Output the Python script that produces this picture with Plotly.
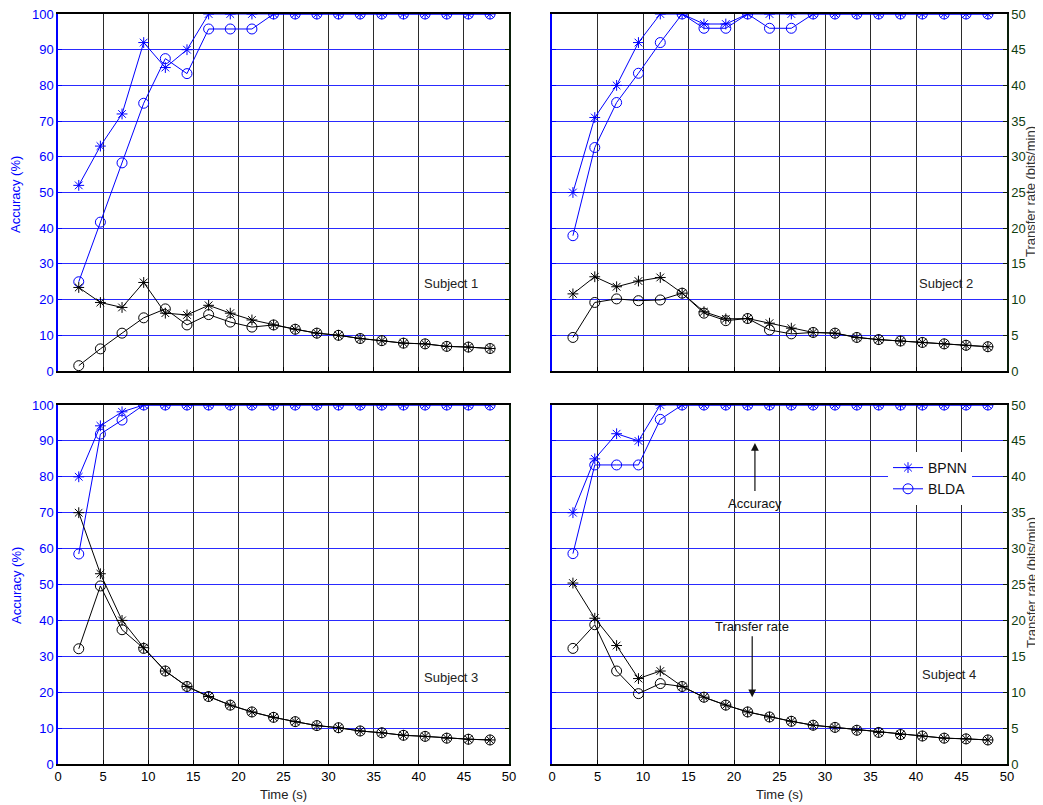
import plotly.graph_objects as go

# ---------------- data ----------------
time_s = [2.3, 4.7, 7.1, 9.5, 11.9, 14.3, 16.7, 19.1, 21.5, 23.9,
          26.3, 28.7, 31.1, 33.5, 35.9, 38.3, 40.7, 43.1, 45.5, 47.9]

# Accuracy (%)
s1_acc_bpnn = [52, 63, 72, 92, 85, 90, 100, 100, 100, 100, 100, 100, 100, 100, 100, 100, 100, 100, 100, 100]
s1_acc_blda = [25, 41.7, 58.3, 75, 87.5, 83.3, 95.8, 95.8, 95.8, 100, 100, 100, 100, 100, 100, 100, 100, 100, 100, 100]
s2_acc_bpnn = [50, 71, 80, 92, 100, 100, 97.2, 97.2, 100, 100, 100, 100, 100, 100, 100, 100, 100, 100, 100, 100]
s2_acc_blda = [37.9, 62.6, 75.2, 83.4, 92, 100, 96, 96, 100, 96, 96, 100, 100, 100, 100, 100, 100, 100, 100, 100]
s3_acc_bpnn = [80, 94.2, 98.1, 100, 100, 100, 100, 100, 100, 100, 100, 100, 100, 100, 100, 100, 100, 100, 100, 100]
s3_acc_blda = [58.5, 91.9, 95.8, 100, 100, 100, 100, 100, 100, 100, 100, 100, 100, 100, 100, 100, 100, 100, 100, 100]
s4_acc_bpnn = [70, 85, 92, 90, 100, 100, 100, 100, 100, 100, 100, 100, 100, 100, 100, 100, 100, 100, 100, 100]
s4_acc_blda = [58.6, 83.3, 83.3, 83.3, 96, 100, 100, 100, 100, 100, 100, 100, 100, 100, 100, 100, 100, 100, 100, 100]

# Transfer rate (bits/min)
s1_tr_bpnn = [11.7, 9.6, 8.9, 12.4, 8.1, 7.85, 9.2, 8.1, 7.15, 6.45, 5.85, 5.3, 5.0, 4.55, 4.25, 3.9, 3.8, 3.45, 3.35, 3.15]
s1_tr_blda = [0.75, 3.1, 5.3, 7.45, 8.7, 6.45, 7.9, 6.85, 6.15, 6.45, 5.85, 5.3, 5.0, 4.55, 4.25, 3.9, 3.8, 3.45, 3.35, 3.15]
s2_tr_bpnn = [10.8, 13.2, 11.8, 12.6, 13.1, 10.9, 8.3, 7.3, 7.35, 6.7, 6.0, 5.4, 5.3, 4.7, 4.4, 4.2, 4.0, 3.8, 3.6, 3.4]
s2_tr_blda = [4.7, 9.6, 10.1, 9.85, 9.95, 10.9, 8.1, 7.05, 7.35, 5.75, 5.2, 5.4, 5.3, 4.7, 4.4, 4.2, 4.0, 3.8, 3.6, 3.4]
s3_tr_bpnn = [35.0, 26.5, 20.0, 16.2, 12.95, 10.8, 9.4, 8.2, 7.25, 6.5, 5.9, 5.35, 5.05, 4.6, 4.35, 4.0, 3.85, 3.6, 3.45, 3.35]
s3_tr_blda = [16.05, 24.8, 18.7, 16.1, 12.95, 10.8, 9.4, 8.2, 7.25, 6.5, 5.9, 5.35, 5.05, 4.6, 4.35, 4.0, 3.85, 3.6, 3.45, 3.35]
s4_tr_bpnn = [25.2, 20.3, 16.5, 11.9, 12.95, 10.8, 9.3, 8.2, 7.25, 6.55, 5.95, 5.4, 5.1, 4.7, 4.4, 4.1, 3.9, 3.6, 3.5, 3.35]
s4_tr_blda = [16.1, 19.4, 12.95, 9.8, 11.2, 10.8, 9.3, 8.2, 7.25, 6.55, 5.95, 5.4, 5.1, 4.7, 4.4, 4.1, 3.9, 3.6, 3.5, 3.35]

subject_labels = ["Subject 1", "Subject 2", "Subject 3", "Subject 4"]
x_ticks = [0, 5, 10, 15, 20, 25, 30, 35, 40, 45, 50]

# ---------------- style ----------------
BLUE = "#0000ff"
BLACK = "#000000"
GREEN = "#0f3d0f"
GRIDB = "#2a2aff"
GRIDK = "#2b2b2b"
FONT = "Liberation Sans, Arial, sans-serif"
OFF = 8  # page body margin
W, H = 1043 - OFF, 805 - OFF

def px_x(p):
    return (p - OFF) / W

def px_y(p):
    return 1 - (p - OFF) / H

LX = [px_x(58), px_x(509)]
RX = [px_x(552), px_x(1007)]
TY = [px_y(371), px_y(14)]
BY = [px_y(764), px_y(405)]

fig = go.Figure()

# panel -> (x axis, acc axis, transfer axis)
panels = [
    ("x", "y", "y5", s1_acc_bpnn, s1_acc_blda, s1_tr_bpnn, s1_tr_blda),
    ("x2", "y6", "y2", s2_acc_bpnn, s2_acc_blda, s2_tr_bpnn, s2_tr_blda),
    ("x3", "y3", "y7", s3_acc_bpnn, s3_acc_blda, s3_tr_bpnn, s3_tr_blda),
    ("x4", "y8", "y4", s4_acc_bpnn, s4_acc_blda, s4_tr_bpnn, s4_tr_blda),
]

for i, (xa, ya_acc, ya_tr, ab, al, tb, tl) in enumerate(panels):
    show = (i == 3)
    fig.add_trace(go.Scatter(x=time_s, y=tb, xaxis=xa, yaxis=ya_tr, mode="lines+markers",
                             line=dict(color=BLACK, width=1),
                             marker=dict(symbol="asterisk-open", size=9, line=dict(color=BLACK, width=1)),
                             showlegend=False, name="BPNN"))
    fig.add_trace(go.Scatter(x=time_s, y=tl, xaxis=xa, yaxis=ya_tr, mode="lines+markers",
                             line=dict(color=BLACK, width=1),
                             marker=dict(symbol="circle-open", size=10, line=dict(color=BLACK, width=1)),
                             showlegend=False, name="BLDA"))
    fig.add_trace(go.Scatter(x=time_s, y=ab, xaxis=xa, yaxis=ya_acc, mode="lines+markers",
                             line=dict(color=BLUE, width=1),
                             marker=dict(symbol="asterisk-open", size=9, line=dict(color=BLUE, width=1)),
                             showlegend=show, name="BPNN"))
    fig.add_trace(go.Scatter(x=time_s, y=al, xaxis=xa, yaxis=ya_acc, mode="lines+markers",
                             line=dict(color=BLUE, width=1),
                             marker=dict(symbol="circle-open", size=10, line=dict(color=BLUE, width=1)),
                             showlegend=show, name="BLDA"))

def xaxis(domain, anchor, labels):
    return dict(domain=domain, anchor=anchor, range=[0, 50], tickvals=x_ticks,
                ticks="inside", ticklen=4, tickcolor=BLACK, automargin=False,
                ticklabeloverflow="allow",
                showgrid=True, gridcolor=GRIDK, gridwidth=1, zeroline=False,
                showline=True, linecolor=BLACK, linewidth=1.5, mirror=True,
                showticklabels=labels, tickfont=dict(size=13, color=BLACK, family=FONT))

def yaxis_vis(domain, anchor, side, rng, dtick, col, lcol):
    return dict(domain=domain, anchor=anchor, side=side, range=rng, dtick=dtick,
                ticks="inside", ticklen=4, tickcolor=lcol, automargin=False,
                ticklabeloverflow="allow",
                showgrid=True, gridcolor=GRIDB, gridwidth=1, zeroline=False,
                showline=True, linecolor=lcol, linewidth=1.5,
                tickfont=dict(size=13, color=col, family=FONT))

def yaxis_hid(over, anchor, side, rng, dtick, lcol):
    return dict(overlaying=over, anchor=anchor, side=side, range=rng, dtick=dtick,
                ticks="inside", ticklen=4, tickcolor=lcol, automargin=False,
                showgrid=False, zeroline=False, showticklabels=False,
                showline=True, linecolor=lcol, linewidth=1.5)

fig.update_layout(
    xaxis=xaxis(LX, "y", False),
    xaxis2=xaxis(RX, "y2", False),
    xaxis3=xaxis(LX, "y3", True),
    xaxis4=xaxis(RX, "y4", True),
    yaxis=yaxis_vis(TY, "x", "left", [0, 100], 10, BLUE, BLUE),
    yaxis2=yaxis_vis(TY, "x2", "right", [0, 50], 5, GREEN, "#0a1f0a"),
    yaxis3=yaxis_vis(BY, "x3", "left", [0, 100], 10, BLUE, BLUE),
    yaxis4=yaxis_vis(BY, "x4", "right", [0, 50], 5, GREEN, "#0a1f0a"),
    yaxis5=yaxis_hid("y", "x", "right", [0, 50], 5, "#0a1f0a"),
    yaxis6=yaxis_hid("y2", "x2", "left", [0, 100], 10, BLUE),
    yaxis7=yaxis_hid("y3", "x3", "right", [0, 50], 5, "#0a1f0a"),
    yaxis8=yaxis_hid("y4", "x4", "left", [0, 100], 10, BLUE),
)

ann = []
# subject labels
ann.append(dict(x=43.6, y=24.4, xref="x", yref="y", text=subject_labels[0], showarrow=False))
ann.append(dict(x=43.3, y=12.3, xref="x2", yref="y2", text=subject_labels[1], showarrow=False))
ann.append(dict(x=43.6, y=24.2, xref="x3", yref="y3", text=subject_labels[2], showarrow=False))
ann.append(dict(x=43.6, y=12.4, xref="x4", yref="y4", text=subject_labels[3], showarrow=False))
for a in ann:
    a["font"] = dict(size=13, color="#222222", family=FONT)

# arrows in panel 4
ann.append(dict(x=22.3, y=44.7, xref="x4", yref="y4", ax=22.3, ay=37.8, axref="x4", ayref="y4",
                text="", showarrow=True, arrowhead=2, arrowsize=1.3, arrowwidth=1.2, arrowcolor="#111111"))
ann.append(dict(x=22.3, y=36.3, xref="x4", yref="y4", text="Accuracy", showarrow=False,
                font=dict(size=13, color="#111111", family=FONT)))
ann.append(dict(x=22.0, y=9.3, xref="x4", yref="y4", ax=22.0, ay=18.0, axref="x4", ayref="y4",
                text="", showarrow=True, arrowhead=2, arrowsize=1.3, arrowwidth=1.2, arrowcolor="#111111"))
ann.append(dict(x=22.0, y=19.2, xref="x4", yref="y4", text="Transfer rate", showarrow=False,
                font=dict(size=13, color="#111111", family=FONT)))

# axis titles
for yc in [px_y(195), px_y(586)]:
    ann.append(dict(x=px_x(16), y=yc, xref="paper", yref="paper", text="Accuracy (%)", textangle=-90,
                    xanchor="center", yanchor="middle",
                    showarrow=False, font=dict(size=13, color=BLUE, family=FONT)))
for yc in [px_y(192), px_y(583)]:
    ann.append(dict(x=px_x(1031), y=yc, xref="paper", yref="paper", text="Transfer rate (bits/min)",
                    xanchor="center", yanchor="middle",
                    textangle=-90, showarrow=False, font=dict(size=13, color="#333333", family=FONT)))
for xc in [px_x(283), px_x(779)]:
    ann.append(dict(x=xc, y=px_y(794), xref="paper", yref="paper", text="Time (s)",
                    xanchor="center", yanchor="middle",
                    showarrow=False, font=dict(size=13, color="#222222", family=FONT)))

fig.update_layout(
    annotations=ann,
    width=W, height=H,
    margin=dict(l=0, r=0, t=0, b=0),
    paper_bgcolor="white", plot_bgcolor="white",
    font=dict(family=FONT, size=12),
    legend=dict(x=px_x(888), y=px_y(452), xanchor="left", yanchor="top",
                bgcolor="white", borderwidth=0, font=dict(size=14, color="#111111", family=FONT),
                tracegroupgap=0),
)

fig.write_html("out.html")
